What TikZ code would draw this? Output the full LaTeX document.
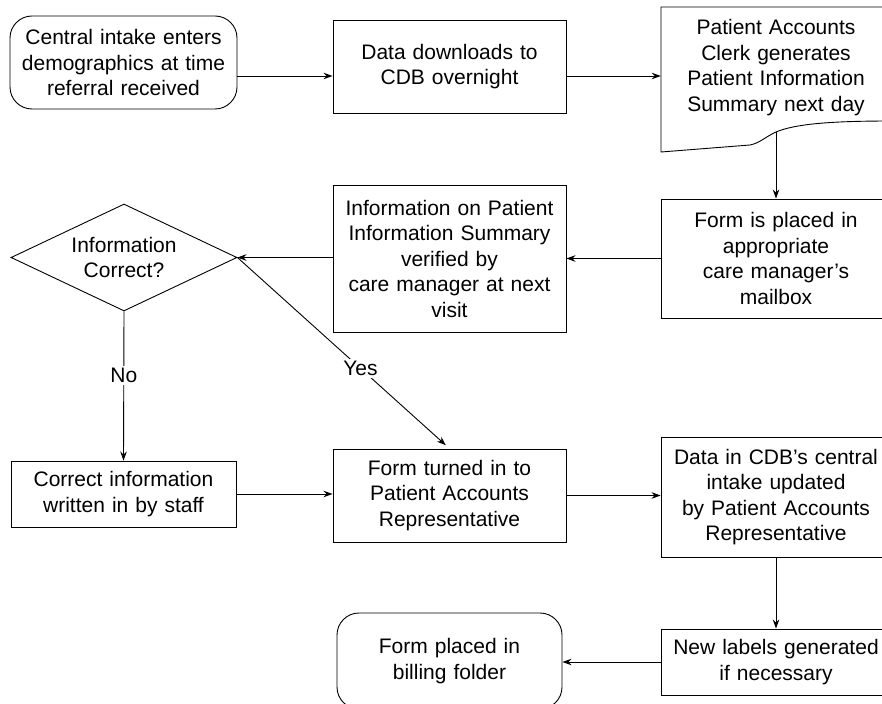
\documentclass[tikz,border=0pt]{standalone}
\usepackage{fontspec}
\setmainfont{Liberation Sans}
\usetikzlibrary{shapes.geometric,arrows.meta}

\begin{document}
\begin{tikzpicture}[x=1pt, y=-1pt,
    every node/.style={font=\fontsize{21}{25.5}\selectfont, align=center, inner sep=4pt},
    box/.style={draw, line width=0.9pt, text width=#1-8pt, minimum width=#1},
    box/.default=233pt,
    roundbox/.style={box=#1, rounded corners=22pt},
    decision/.style={draw, line width=0.9pt, diamond, aspect=2.1, inner sep=0pt,
      minimum width=226pt, minimum height=107pt},
    flow/.style={line width=0.9pt, -{Stealth[length=9pt,width=6.5pt]}},
    tag/.style={fill=white, inner sep=2pt}]
  \useasboundingbox (0,0) rectangle (882,703);
  \clip (0,0) rectangle (882,703);

  \node[roundbox=227pt, minimum height=93pt] (intake) at (123.5,62.5)
    {Central intake enters\\demographics at time\\referral received};
  \node[box, minimum height=93pt] (download) at (449.5,66.5)
    {Data downloads to\\CDB overnight};
  \node[text width=222pt, minimum width=230pt] (summary) at (776,67.5)
    {Patient Accounts\\Clerk generates\\Patient Information\\Summary next day};
  \draw[line width=0.9pt] (661,7) -- (891,7) -- (891,121)
    .. controls (830,121) and (795,124) .. (776,132)
    .. controls (765,137) and (760,143) .. (750,145) -- (661,152) -- cycle;
  \coordinate (wave) at (776,132);

  \node[box=230pt, minimum height=119pt] (mailbox) at (776,258.5)
    {Form is placed in\\appropriate\\care manager’s\\mailbox};
  \node[box, minimum height=147pt] (verify) at (449.5,258.5)
    {Information on Patient\\Information Summary\\verified by\\care manager at next\\visit};
  \node[decision] (correct) at (124,257.5) {Information\\Correct?};

  \node[box=225pt, minimum height=66pt] (staff) at (123.5,494)
    {Correct information\\written in by staff};
  \node[box, minimum height=93pt] (turnin) at (449.5,495.5)
    {Form turned in to\\Patient Accounts\\Representative};
  \node[box=230pt, minimum height=120pt] (update) at (776,497)
    {Data in CDB’s central\\intake updated\\by Patient Accounts\\Representative};

  \node[box=230pt, minimum height=66pt] (labels) at (776,662)
    {New labels generated\\if necessary};
  \node[roundbox=225pt, minimum height=96pt] (billing) at (449.5,661)
    {Form placed in\\billing folder};

  \draw[flow] ([yshift=-13.5pt]intake.east) -- ([yshift=-9.5pt]download.west);
  \draw[flow] ([yshift=-9.5pt]download.east) -- ([yshift=-8.5pt]summary.west);
  \draw[flow] (wave) -- (mailbox.north);
  \draw[flow] (mailbox.west) -- (verify.east);
  \draw[flow] (verify.west |- correct.east) -- (correct.east);
  \draw[flow] (correct.south) -- node[tag, pos=0.43] (no) {No} (staff.north);
  \draw[flow, shorten >=5pt] (correct.east) -- node[tag, pos=0.58] (yes) {Yes} (turnin.north);
  \draw[flow] (staff.east) -- (staff.east -| turnin.west);
  \draw[flow] (turnin.east) -- (turnin.east -| update.west);
  \draw[flow] (update.south) -- (labels.north);
  \draw[flow] (labels.west) -- (labels.west -| billing.east);
\end{tikzpicture}
\end{document}
